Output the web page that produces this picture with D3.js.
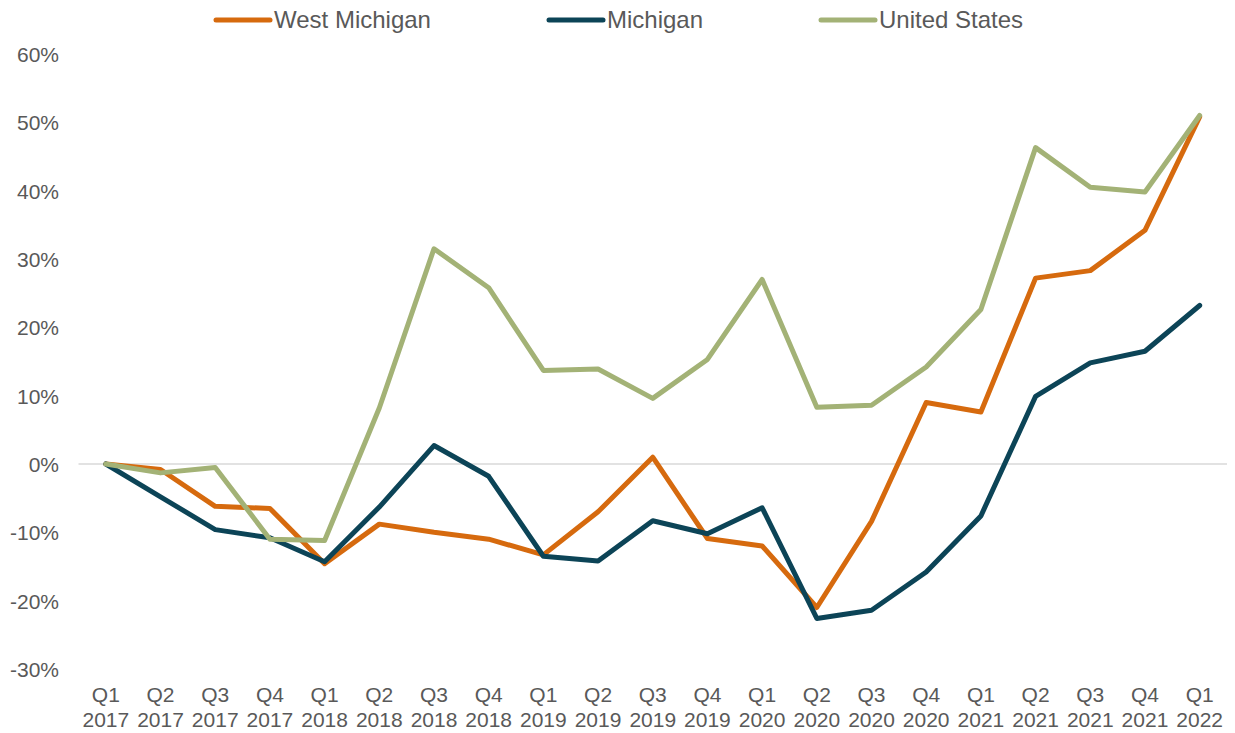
<!DOCTYPE html>
<html>
<head>
<meta charset="utf-8">
<script src="https://cdn.jsdelivr.net/npm/d3@7"></script>
<style>
  html, body { margin: 0; padding: 0; background: #fff; }
  svg { display: block; font-family: "Liberation Sans", Arial, sans-serif; }
</style>
</head>
<body>
<svg id="chart" width="1235" height="733"></svg>
<script>
// Quarter labels (two lines: quarter, year)
const quarters = ["Q1","Q2","Q3","Q4","Q1","Q2","Q3","Q4","Q1","Q2","Q3","Q4","Q1","Q2","Q3","Q4","Q1","Q2","Q3","Q4","Q1"];
const years = ["2017","2017","2017","2017","2018","2018","2018","2018","2019","2019","2019","2019","2020","2020","2020","2020","2021","2021","2021","2021","2022"];

// Percent change since Q1 2017
const westMichigan = [0, -0.8, -6.2, -6.5, -14.6, -8.8, -10.0, -11.0, -13.3, -7.0, 1.0, -10.9, -12.0, -21.0, -8.4, 9.0, 7.6, 27.2, 28.3, 34.2, 50.8];
const michigan = [0, -4.8, -9.6, -10.8, -14.3, -6.3, 2.7, -1.8, -13.5, -14.2, -8.3, -10.2, -6.4, -22.6, -21.4, -15.8, -7.6, 9.9, 14.8, 16.5, 23.2];
const unitedStates = [0, -1.3, -0.5, -11.0, -11.2, 8.2, 31.5, 25.8, 13.7, 13.9, 9.6, 15.3, 27.0, 8.3, 8.6, 14.2, 22.6, 46.3, 40.5, 39.8, 51.0];

const yTicks = [-30, -20, -10, 0, 10, 20, 30, 40, 50, 60];

const seriesNames = ["West Michigan", "Michigan", "United States"];
const seriesColors = ["#D66A0E", "#0C4457", "#A3B276"];
const seriesValues = [westMichigan, michigan, unitedStates];

const svg = d3.select("#chart");

const x = d3.scaleBand()
  .domain(d3.range(quarters.length))
  .range([78.5, 1227])
  .padding(0);

const y = d3.scaleLinear()
  .domain([-30, 60])
  .range([669, 54]);

const cx = i => x(i) + x.bandwidth() / 2;

// Zero reference line
svg.append("line")
  .attr("x1", x.range()[0]).attr("x2", x.range()[1])
  .attr("y1", y(0)).attr("y2", y(0))
  .attr("stroke", "#d9d9d9")
  .attr("stroke-width", 1.6);

// Y axis labels
const yAxis = d3.axisLeft(y)
  .tickValues(yTicks)
  .tickSize(0)
  .tickPadding(0)
  .tickFormat(d => d + "%");
const yg = svg.append("g").attr("transform", "translate(59,0)").call(yAxis);
yg.select(".domain").remove();
yg.selectAll("text")
  .attr("fill", "#595959")
  .attr("font-size", "21px")
  .attr("font-family", "'Liberation Sans', Arial, sans-serif")
  .attr("dy", "0.35em");

// X axis labels, two lines each
const xg = svg.append("g").attr("class", "x-axis");
quarters.forEach((q, i) => {
  const t = xg.append("text")
    .attr("x", cx(i))
    .attr("text-anchor", "middle")
    .attr("fill", "#595959")
    .attr("font-size", "21px");
  t.append("tspan").attr("x", cx(i)).attr("y", 702).text(q);
  t.append("tspan").attr("x", cx(i)).attr("y", 727).text(years[i]);
});

// Series lines
const line = d3.line()
  .x((d, i) => cx(i))
  .y(d => y(d));

seriesValues.forEach((vals, k) => {
  svg.append("path")
    .datum(vals)
    .attr("fill", "none")
    .attr("stroke", seriesColors[k])
    .attr("stroke-width", 5)
    .attr("stroke-linejoin", "round")
    .attr("stroke-linecap", "round")
    .attr("d", line);
});

// Legend
const legendX = [216, 549, 821];
const legend = svg.append("g");
seriesNames.forEach((name, k) => {
  legend.append("line")
    .attr("x1", legendX[k]).attr("x2", legendX[k] + 54)
    .attr("y1", 20).attr("y2", 20)
    .attr("stroke", seriesColors[k])
    .attr("stroke-width", 5)
    .attr("stroke-linecap", "round");
  legend.append("text")
    .attr("x", legendX[k] + 58)
    .attr("y", 28)
    .attr("fill", "#595959")
    .attr("font-size", "24px")
    .text(name);
});
</script>
</body>
</html>
